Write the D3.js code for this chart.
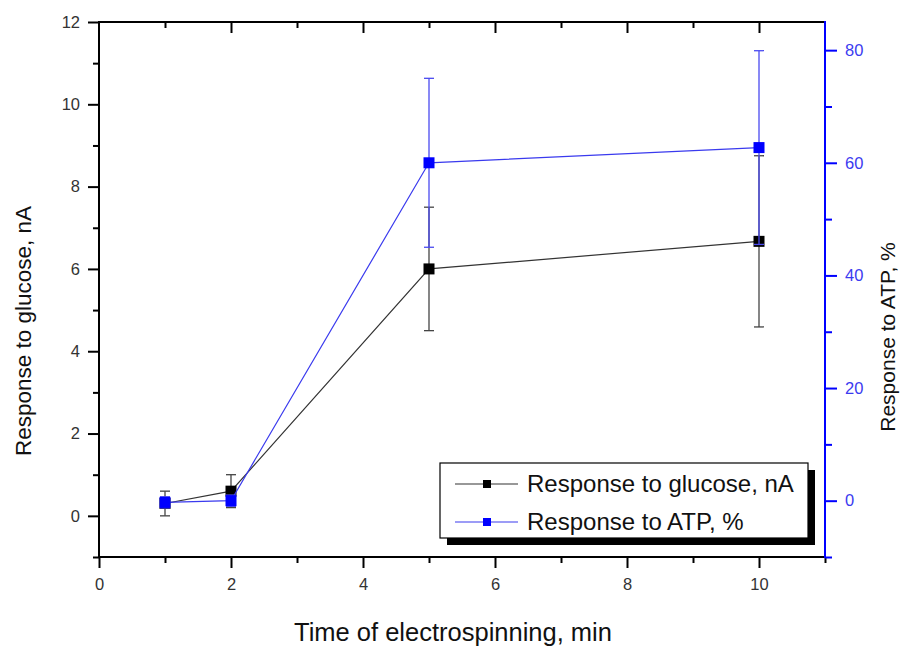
<!DOCTYPE html>
<html>
<head>
<meta charset="utf-8">
<script src="https://cdn.jsdelivr.net/npm/d3@7/dist/d3.min.js"></script>
<style>
  html, body { margin: 0; padding: 0; background: #fff; }
  svg { display: block; font-family: "Liberation Sans", Arial, sans-serif; }
</style>
</head>
<body>
<svg id="chart" width="907" height="650"></svg>
<script>
// ---- data ----
const times = [1, 2, 5, 10];
const glucose = [0.3, 0.6, 6.0, 6.67];
const glucoseErr = [0.3, 0.4, 1.5, 2.08];
const atp = [-0.3, 0, 60, 62.7];
const atpErr = [1, 1, 15, 17.2];

const xMajorTicks = [0, 2, 4, 6, 8, 10];
const xMinorTicks = [1, 3, 5, 7, 9, 11];
const yLeftMajorTicks = [0, 2, 4, 6, 8, 10, 12];
const yLeftMinorTicks = [-1, 1, 3, 5, 7, 9, 11];
const yRightMajorTicks = [0, 20, 40, 60, 80];
const yRightMinorTicks = [-10, 10, 30, 50, 70];

const seriesNames = ["Response to glucose, nA", "Response to ATP, %"];
const xTitle = "Time of electrospinning, min";

// ---- layout ----
const svg = d3.select("#chart");
const L = 99, R = 825, T = 22, B = 557;
const BLACK = "#000";
const BLUE = "#0000ff";
const BLUE_TXT = "#3b3bf0";

const x = d3.scaleLinear().domain([0, 11]).range([L, R]);
const yL = d3.scaleLinear().domain([-1, 12]).range([B, T]);
const yR = d3.scaleLinear().domain([-10, 85]).range([B, T]);

function styleAxis(g, color, textColor) {
  g.select(".domain").remove();
  g.selectAll(".tick line").attr("stroke", color).attr("stroke-width", 2);
  g.selectAll(".tick text").attr("fill", textColor).attr("font-size", 16.5)
    .attr("font-family", "Liberation Sans, Arial, sans-serif");
}

// bottom axis
const gB = svg.append("g").attr("transform", `translate(0,${B})`);
gB.call(d3.axisBottom(x).tickValues(xMajorTicks).tickSize(11).tickPadding(10).tickFormat(d3.format("d")));
styleAxis(gB, BLACK, "#333");
const gBm = svg.append("g").attr("transform", `translate(0,${B})`);
gBm.call(d3.axisBottom(x).tickValues(xMinorTicks).tickSize(6).tickFormat(""));
styleAxis(gBm, BLACK, "#333");

// top axis (inward ticks, no labels)
const gT = svg.append("g").attr("transform", `translate(0,${T})`);
gT.call(d3.axisBottom(x).tickValues(xMajorTicks.filter(d => d > 0)).tickSize(11).tickFormat(""));
styleAxis(gT, BLACK, "#333");
const gTm = svg.append("g").attr("transform", `translate(0,${T})`);
gTm.call(d3.axisBottom(x).tickValues(xMinorTicks.filter(d => d < 11)).tickSize(6).tickFormat(""));
styleAxis(gTm, BLACK, "#333");

// left axis
const gL = svg.append("g").attr("transform", `translate(${L},0)`);
gL.call(d3.axisLeft(yL).tickValues(yLeftMajorTicks).tickSize(11).tickPadding(8).tickFormat(d3.format("d")));
styleAxis(gL, BLACK, "#333");
const gLm = svg.append("g").attr("transform", `translate(${L},0)`);
gLm.call(d3.axisLeft(yL).tickValues(yLeftMinorTicks).tickSize(6).tickFormat(""));
styleAxis(gLm, BLACK, "#333");

// right axis
const gR = svg.append("g").attr("transform", `translate(${R},0)`);
gR.call(d3.axisRight(yR).tickValues(yRightMajorTicks).tickSize(12).tickPadding(8).tickFormat(d3.format("d")));
styleAxis(gR, BLUE, BLUE_TXT);
const gRm = svg.append("g").attr("transform", `translate(${R},0)`);
gRm.call(d3.axisRight(yR).tickValues(yRightMinorTicks).tickSize(7).tickFormat(""));
styleAxis(gRm, BLUE, BLUE_TXT);

// frame lines
svg.append("line").attr("x1", L - 1).attr("x2", R).attr("y1", T).attr("y2", T).attr("stroke", BLACK).attr("stroke-width", 2);
svg.append("line").attr("x1", L - 1).attr("x2", R + 1).attr("y1", B).attr("y2", B).attr("stroke", BLACK).attr("stroke-width", 2);
svg.append("line").attr("x1", L).attr("x2", L).attr("y1", T - 1).attr("y2", B + 1).attr("stroke", BLACK).attr("stroke-width", 2);
svg.append("line").attr("x1", R).attr("x2", R).attr("y1", T - 1).attr("y2", B + 1).attr("stroke", BLUE).attr("stroke-width", 2);

// ---- series ----
function drawSeries(vals, errs, yScale, lineColor, errColor, markColor) {
  const data = times.map((t, i) => ({ t, v: vals[i], e: errs[i] }));
  const g = svg.append("g");
  g.append("path").datum(data)
    .attr("d", d3.line().x(d => x(d.t)).y(d => yScale(d.v)))
    .attr("fill", "none").attr("stroke", lineColor).attr("stroke-width", 1.2);
  const eb = g.selectAll(".eb").data(data).enter().append("g");
  eb.append("line")
    .attr("x1", d => x(d.t)).attr("x2", d => x(d.t))
    .attr("y1", d => yScale(d.v - d.e)).attr("y2", d => yScale(d.v + d.e))
    .attr("stroke", errColor).attr("stroke-width", 1.3);
  [-1, 1].forEach(s => {
    eb.append("line")
      .attr("x1", d => x(d.t) - 5).attr("x2", d => x(d.t) + 5)
      .attr("y1", d => yScale(d.v + s * d.e)).attr("y2", d => yScale(d.v + s * d.e))
      .attr("stroke", errColor).attr("stroke-width", 1.3);
  });
  g.selectAll(".mk").data(data).enter().append("rect")
    .attr("x", d => x(d.t) - 5.5).attr("y", d => yScale(d.v) - 5.5)
    .attr("width", 11).attr("height", 11)
    .attr("fill", markColor);
}
drawSeries(glucose, glucoseErr, yL, "#333", "#444", "#000");
drawSeries(atp, atpErr, yR, "#3a3aee", "#4a4af0", "#0000ff");

// ---- titles ----
svg.append("text").attr("x", 453).attr("y", 641).attr("text-anchor", "middle")
  .attr("font-size", 25.5).attr("fill", "#111").text(xTitle);
svg.append("text").attr("transform", `translate(31,331) rotate(-90)`).attr("text-anchor", "middle")
  .attr("font-size", 22.5).attr("fill", "#111").text(seriesNames[0]);
svg.append("text").attr("transform", `translate(895,337) rotate(-90)`).attr("text-anchor", "middle")
  .attr("font-size", 21).attr("fill", "#111").text(seriesNames[1]);

// ---- legend ----
const lg = svg.append("g");
lg.append("rect").attr("x", 447).attr("y", 470).attr("width", 368).attr("height", 75).attr("fill", "#000");
lg.append("rect").attr("x", 440).attr("y", 463).attr("width", 368).attr("height", 75)
  .attr("fill", "#fff").attr("stroke", "#000").attr("stroke-width", 1.2);
const legendColors = [["#333", "#000"], ["#3a3aee", "#0000ff"]];
seriesNames.forEach((name, i) => {
  const cy = 484 + i * 38;
  lg.append("line").attr("x1", 455).attr("x2", 518).attr("y1", cy).attr("y2", cy)
    .attr("stroke", legendColors[i][0]).attr("stroke-width", 1.2);
  lg.append("rect").attr("x", 483).attr("y", cy - 4).attr("width", 8).attr("height", 8)
    .attr("fill", legendColors[i][1]);
  lg.append("text").attr("x", 527).attr("y", cy + 8).attr("font-size", 24).attr("fill", "#111").text(name);
});
</script>
</body>
</html>
